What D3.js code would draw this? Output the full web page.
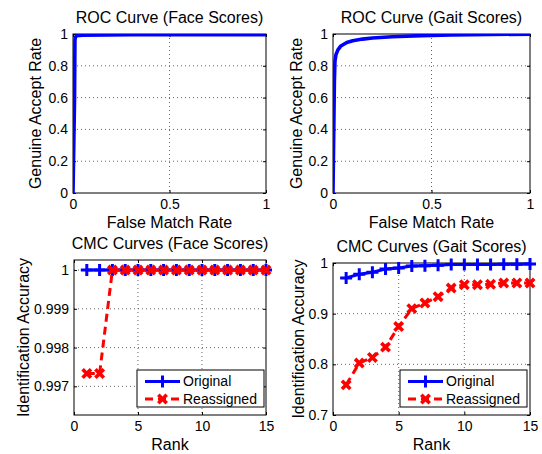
<!DOCTYPE html>
<html>
<head>
<meta charset="utf-8">
<script src="https://cdn.jsdelivr.net/npm/d3@7"></script>
<style>
  body { margin: 0; background: #fff; }
  svg text { font-family: "Liberation Sans", Arial, Helvetica, sans-serif; fill: #000; }
</style>
</head>
<body>
<div id="chart"></div>
<script>
// ROC data (face / gait)
const faceFmr = [0, 0.008, 0.01, 0.012, 0.02, 0.05, 0.3, 1];
const faceGar = [0, 0.6, 0.96, 0.98, 0.99, 0.993, 0.995, 0.995];
const gaitFmr = [0, 0.007, 0.01, 0.015, 0.025, 0.04, 0.07, 0.1, 0.15, 0.2, 0.3, 0.45, 0.6, 0.8, 1];
const gaitGar = [0, 0.7, 0.83, 0.87, 0.9, 0.925, 0.947, 0.958, 0.968, 0.975, 0.983, 0.99, 0.994, 0.997, 0.999];

// CMC data
const ranks = d3.range(1, 16);
const faceOriginal = [1, 1, 1, 1, 1, 1, 1, 1, 1, 1, 1, 1, 1, 1, 1];
const faceReassigned = [0.99733, 0.99733, 1, 1, 1, 1, 1, 1, 1, 1, 1, 1, 1, 1, 1];
const gaitOriginal = [0.9706, 0.9778, 0.9817, 0.9882, 0.9902, 0.9940, 0.9945, 0.9955, 0.9970, 0.9972, 0.9972, 0.9972, 0.9976, 0.9976, 0.9980];
const gaitReassigned = [0.7595, 0.8025, 0.8135, 0.834, 0.8745, 0.9100, 0.9210, 0.9335, 0.9505, 0.9570, 0.9570, 0.9580, 0.9605, 0.9605, 0.9605];

// ticks
const rocXTicks = [0, 0.5, 1];
const rocYTicks = [0, 0.2, 0.4, 0.6, 0.8, 1];
const cmcXTicks = [0, 5, 10, 15];
const faceCmcYTicks = [0.997, 0.998, 0.999, 1];
const gaitCmcYTicks = [0.7, 0.8, 0.9, 1];

const legendNames = ["Original", "Reassigned"];

const W = 542, H = 454;
const svg = d3.select("#chart").append("svg")
  .attr("width", W).attr("height", H);

const fmt = d3.format("~g");
let clipId = 0;

function panel(cfg) {
  const { left, right, top, bottom } = cfg.box;
  const x = d3.scaleLinear().domain(cfg.xDomain).range([left, right]);
  const y = d3.scaleLinear().domain(cfg.yDomain).range([bottom, top]);
  const g = svg.append("g");

  // grid
  g.append("g").selectAll("line").data(cfg.xTicks.filter(t => x(t) > left + 1 && x(t) < right - 1))
    .join("line")
    .attr("x1", d => x(d)).attr("x2", d => x(d))
    .attr("y1", top).attr("y2", bottom)
    .attr("stroke", "#666").attr("stroke-width", 1).attr("stroke-dasharray", "1,3");
  g.append("g").selectAll("line").data(cfg.yTicks.filter(t => y(t) > top + 1 && y(t) < bottom - 1))
    .join("line")
    .attr("x1", left).attr("x2", right)
    .attr("y1", d => y(d)).attr("y2", d => y(d))
    .attr("stroke", "#666").attr("stroke-width", 1).attr("stroke-dasharray", "1,3");

  // axes (inward ticks on all sides)
  const xb = g.append("g").attr("transform", `translate(0,${bottom})`)
    .call(d3.axisBottom(x).tickValues(cfg.xTicks).tickSize(-3).tickPadding(6).tickFormat(fmt));
  const yl = g.append("g").attr("transform", `translate(${left},0)`)
    .call(d3.axisLeft(y).tickValues(cfg.yTicks).tickSize(-3).tickPadding(5).tickFormat(fmt));
  const xt = g.append("g").attr("transform", `translate(0,${top})`)
    .call(d3.axisTop(x).tickValues(cfg.xTicks).tickSize(-3).tickFormat(""));
  const yr = g.append("g").attr("transform", `translate(${right},0)`)
    .call(d3.axisRight(y).tickValues(cfg.yTicks).tickSize(-3).tickFormat(""));
  [xb, yl, xt, yr].forEach(a => {
    a.select(".domain").remove();
    a.selectAll("line").attr("stroke", "#000");
    a.selectAll("text").style("font-size", "14px").attr("fill", "#000");
  });
  xb.selectAll("text").attr("dy", "0.71em");

  g.append("rect")
    .attr("x", left).attr("y", top)
    .attr("width", right - left).attr("height", bottom - top)
    .attr("fill", "none").attr("stroke", "#000").attr("stroke-width", 1);

  // titles and labels
  g.append("text")
    .attr("x", (left + right) / 2).attr("y", top - 11)
    .attr("text-anchor", "middle").style("font-size", "16px")
    .text(cfg.title);
  g.append("text")
    .attr("x", (left + right) / 2).attr("y", bottom + 35)
    .attr("text-anchor", "middle").style("font-size", "16px")
    .text(cfg.xLabel);
  g.append("text")
    .attr("transform", `translate(${cfg.yLabelX},${(top + bottom) / 2}) rotate(-90)`)
    .attr("text-anchor", "middle").attr("dy", "0.35em").style("font-size", "16px")
    .text(cfg.yLabel);

  const id = "clip" + (clipId++);
  svg.append("clipPath").attr("id", id).append("rect")
    .attr("x", left).attr("y", top).attr("width", right - left).attr("height", bottom - top);

  return { g, x, y, clip: `url(#${id})` };
}

const plusPath = "M-6,0L6,0M0,-6L0,6";
const crossPath = "M-4.2,-4.2L4.2,4.2M-4.2,4.2L4.2,-4.2";

function rocCurve(p, xs, ys) {
  const line = d3.line().x((d, i) => p.x(xs[i])).y(d => p.y(d));
  p.g.append("path")
    .datum(ys)
    .attr("clip-path", p.clip)
    .attr("d", line)
    .attr("fill", "none")
    .attr("stroke", "#0000ff")
    .attr("stroke-width", 3.6)
    .attr("stroke-linejoin", "round");
}

function cmcSeries(p, vals, color, dashed, marker) {
  const line = d3.line().x((d, i) => p.x(ranks[i])).y(d => p.y(d));
  p.g.append("path")
    .datum(vals)
    .attr("d", line)
    .attr("fill", "none")
    .attr("stroke", color)
    .attr("stroke-width", 3)
    .attr("stroke-dasharray", dashed ? "8,5" : null);
  p.g.append("g").selectAll("path").data(vals).join("path")
    .attr("transform", (d, i) => `translate(${p.x(ranks[i])},${p.y(d)})`)
    .attr("d", marker)
    .attr("fill", "none")
    .attr("stroke", color)
    .attr("stroke-width", dashed ? 3.6 : 3);
}

function legend(p, boxX, boxY) {
  const lg = p.g.append("g").attr("transform", `translate(${boxX},${boxY})`);
  lg.append("rect").attr("width", 127).attr("height", 37)
    .attr("fill", "#fff").attr("stroke", "#000").attr("stroke-width", 1);
  const rows = [
    { name: legendNames[0], color: "#0000ff", dashed: false, marker: plusPath },
    { name: legendNames[1], color: "#ff0000", dashed: true, marker: crossPath }
  ];
  rows.forEach((r, i) => {
    const yy = 11.5 + i * 17.5;
    lg.append("line").attr("x1", 8).attr("x2", 43).attr("y1", yy).attr("y2", yy)
      .attr("stroke", r.color).attr("stroke-width", 3)
      .attr("stroke-dasharray", r.dashed ? "8,5" : null);
    lg.append("path").attr("transform", `translate(25.5,${yy})`).attr("d", r.marker)
      .attr("fill", "none").attr("stroke", r.color).attr("stroke-width", r.dashed ? 3.6 : 3);
    lg.append("text").attr("x", 46).attr("y", yy).attr("dy", "0.35em")
      .style("font-size", "14px").text(r.name);
  });
}

// Panel 1: ROC face
const p1 = panel({
  box: { left: 73, right: 266, top: 34, bottom: 193 },
  xDomain: [0, 1], yDomain: [0, 1], xTicks: rocXTicks, yTicks: rocYTicks,
  title: "ROC Curve (Face Scores)", xLabel: "False Match Rate", yLabel: "Genuine Accept Rate", yLabelX: 35
});
rocCurve(p1, faceFmr, faceGar);

// Panel 2: ROC gait
const p2 = panel({
  box: { left: 333, right: 530, top: 34, bottom: 193 },
  xDomain: [0, 1], yDomain: [0, 1], xTicks: rocXTicks, yTicks: rocYTicks,
  title: "ROC Curve (Gait Scores)", xLabel: "False Match Rate", yLabel: "Genuine Accept Rate", yLabelX: 296
});
rocCurve(p2, gaitFmr, gaitGar);

// Panel 3: CMC face
const p3 = panel({
  box: { left: 74, right: 266, top: 260, bottom: 415 },
  xDomain: [0, 15], yDomain: [0.99626, 1.00026], xTicks: cmcXTicks, yTicks: faceCmcYTicks,
  title: "CMC Curves (Face Scores)", xLabel: "Rank", yLabel: "Identification Accuracy", yLabelX: 23
});
cmcSeries(p3, faceOriginal, "#0000ff", false, plusPath);
cmcSeries(p3, faceReassigned, "#ff0000", true, crossPath);
legend(p3, 137, 370);

// Panel 4: CMC gait
const p4 = panel({
  box: { left: 333, right: 530, top: 263, bottom: 415 },
  xDomain: [0, 15], yDomain: [0.7, 1], xTicks: cmcXTicks, yTicks: gaitCmcYTicks,
  title: "CMC Curves (Gait Scores)", xLabel: "Rank", yLabel: "Identification Accuracy", yLabelX: 298
});
cmcSeries(p4, gaitOriginal, "#0000ff", false, plusPath);
cmcSeries(p4, gaitReassigned, "#ff0000", true, crossPath);
legend(p4, 400, 370);
</script>
</body>
</html>
